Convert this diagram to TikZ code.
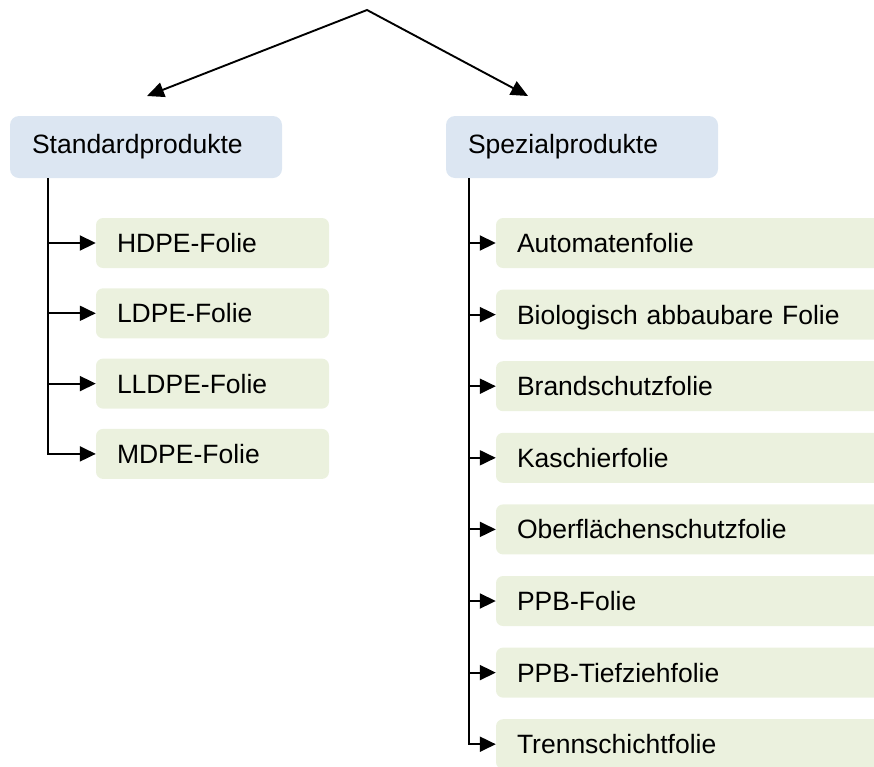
\documentclass[tikz,border=0pt]{standalone}
\usepackage{fontspec}
\setmainfont{Liberation Sans}
\usetikzlibrary{positioning, arrows.meta}
\definecolor{kopfblau}{HTML}{DCE6F2}
\definecolor{foliegruen}{HTML}{EBF1DE}

\begin{document}
\begin{tikzpicture}[x=1pt, y=-1pt, on grid, node distance=70.3pt,
    font=\fontsize{26.5}{30}\selectfont,
    gruppe/.style={fill=kopfblau, rounded corners=9pt, minimum height=62pt,
        inner xsep=22pt, text width=228pt, align=left, text height=19pt, text depth=7pt},
    folie/.style={fill=foliegruen, rounded corners=7pt, minimum height=50pt,
        inner xsep=21pt, align=left, text height=19pt, text depth=0pt},
    pfeil/.style={line width=1.9pt, -{Triangle[length=16pt, width=15pt]}}]
    \useasboundingbox (0,0) rectangle (874,766);
    \clip (0,0) rectangle (874,766);

    % Obergruppen
    \node[gruppe] (std) at (146,147) {Standardprodukte};
    \node[gruppe] (spez) at (582,147) {Spezialprodukte};

    % Standardprodukte
    \node[folie, text width=191pt] (hdpe) at (212.5,243) {HDPE-Folie};
    \node[folie, text width=191pt, below=of hdpe] (ldpe) {LDPE-Folie};
    \node[folie, text width=191pt, below=of ldpe] (lldpe) {LLDPE-Folie};
    \node[folie, text width=191pt, below=of lldpe] (mdpe) {MDPE-Folie};

    % Spezialprodukte
    \begin{scope}[node distance=71.6pt, every node/.append style={text width=378pt}]
        \node[folie] (auto) at (706,243) {Automatenfolie};
        \node[folie, below=of auto] (bio) {Biologisch abbaubare Folie};
        \node[folie, below=of bio] (brand) {Brandschutzfolie};
        \node[folie, below=of brand] (kasch) {Kaschierfolie};
        \node[folie, below=of kasch] (ober) {Oberflächenschutzfolie};
        \node[folie, below=of ober] (ppb) {PPB-Folie};
        \node[folie, below=of ppb] (tief) {PPB-Tiefziehfolie};
        \node[folie, below=of tief] (trenn) {Trennschichtfolie};
    \end{scope}

    % Verzweigung oben
    \coordinate (spitze) at (367,10);
    \coordinate (zielL) at (147,96);
    \coordinate (zielR) at (528,96);
    \draw[line width=1.9pt, line join=miter, {Triangle[length=17pt, width=15pt]}-{Triangle[length=17pt, width=15pt]}]
        (zielL) -- (spitze) -- (zielR);

    % Staemme
    \coordinate (stammL) at (std.south -| 48,0);
    \coordinate (stammR) at (spez.south -| 469,0);
    \foreach \n in {hdpe, ldpe, lldpe, mdpe}
        \draw[pfeil] (stammL) |- (\n.west);
    \foreach \n in {auto, bio, brand, kasch, ober, ppb, tief, trenn}
        \draw[pfeil] (stammR) |- (\n.west);
\end{tikzpicture}
\end{document}
